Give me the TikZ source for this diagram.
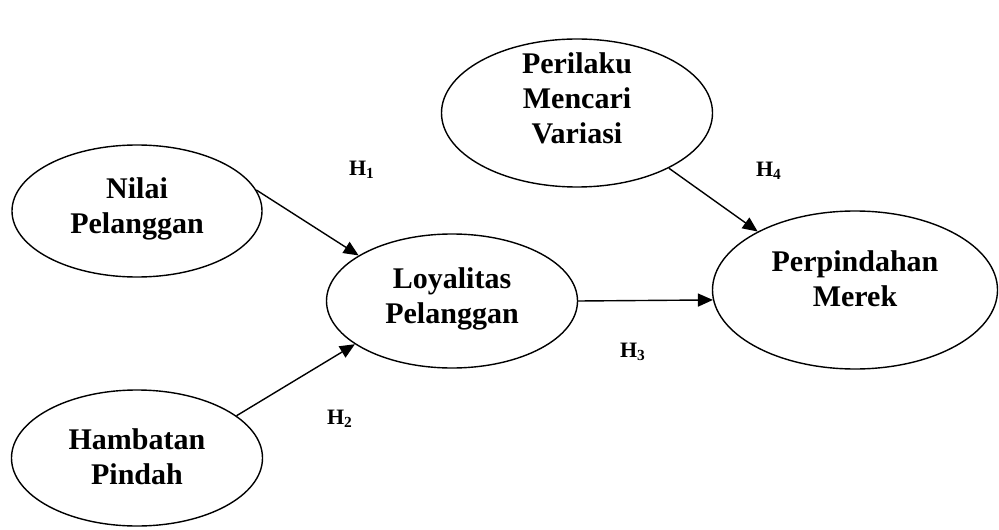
\documentclass[tikz,border=0pt]{standalone}
\usepackage{fontspec}
\setmainfont{Liberation Serif}
\usetikzlibrary{shapes.geometric,arrows.meta}
\begin{document}
\begin{tikzpicture}[x=0.5pt,y=-0.5pt,
  ell/.style={draw,ellipse,line width=0.7pt,inner sep=0pt},
  txt/.style={align=center,font=\fontsize{15}{17.5}\selectfont\bfseries,inner sep=0pt},
  hyp/.style={font=\fontsize{11}{13}\selectfont\bfseries,inner sep=0pt},
  arr/.style={line width=0.7pt,-{Triangle[length=7.5pt,width=6.5pt]}}]
\useasboundingbox (0,0) rectangle (999,529);
\node[ell,minimum width=125pt,minimum height=66pt] (nilai) at (137,211) {};
\node[ell,minimum width=125.5pt,minimum height=68pt] (hamb) at (137,458) {};
\node[ell,minimum width=125.5pt,minimum height=67pt] (loy) at (452,301) {};
\node[ell,minimum width=135.5pt,minimum height=74pt] (peril) at (577,113) {};
\node[ell,minimum width=142.5pt,minimum height=79pt] (perp) at (855,290) {};
\node[txt] (nilaiT) at (137,209) {Nilai\\Pelanggan};
\node[txt] (hambT) at (137,457) {Hambatan\\Pindah};
\node[txt] (loyT) at (452,299) {Loyalitas\\Pelanggan};
\node[txt] (perilT) at (577,98) {Perilaku\\Mencari\\Variasi};
\node[txt] (perpT) at (855,279) {Perpindahan\\Merek};
\draw[arr] (nilai.10.6) -- (loy.154.8);
\draw[arr] (hamb.23.7) -- (loy.204.3);
\draw[arr] (loy.east) -- (perp.184.8);
\draw[arr] (peril.-31) -- (perp.149.4);
\node[hyp] (h1) at (362,170) {H\textsubscript{1}};
\node[hyp] (h2) at (340,419) {H\textsubscript{2}};
\node[hyp] (h3) at (633,352) {H\textsubscript{3}};
\node[hyp] (h4) at (769,171) {H\textsubscript{4}};
\end{tikzpicture}
\end{document}
